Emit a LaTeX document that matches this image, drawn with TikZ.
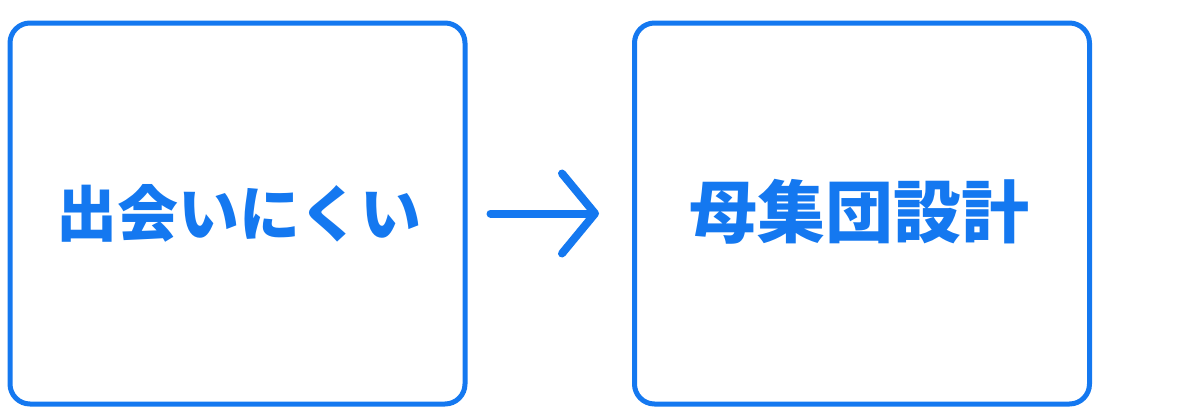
\documentclass[tikz,border=0pt]{standalone}
\usepackage{fontspec}
\newfontfamily\cjk{Noto Sans CJK JP}
\usetikzlibrary{arrows.meta}
\definecolor{appblue}{RGB}{20,120,240}
\tikzset{
  card/.style={draw=appblue,line width=5pt,rounded corners=20pt,minimum width=455pt,minimum height=381pt,inner sep=0pt},
  cardtext/.style={text=appblue,font=\cjk\bfseries},
  flow/.style={draw=appblue,line width=8pt,line cap=round,line join=round,
    -{Straight Barb[length=33pt,width=80pt,round]}}
}
\begin{document}
\begin{tikzpicture}[x=1pt,y=-1pt]
\useasboundingbox (0,0) rectangle (1200,418);
\node[card] (meet) at (237.5,213.5) {};
\node[card] (design) at (862,213.5) {};
\node[cardtext,font=\cjk\bfseries\fontsize{61}{70}\selectfont] (meettext) at (239,213) {出会いにくい};
\node[cardtext,font=\cjk\bfseries\fontsize{68}{78}\selectfont] (designtext) at (859,212) {母集団設計};
\draw[flow,shorten <=23pt,shorten >=33pt] (meet) -- (design);
\end{tikzpicture}
\end{document}
